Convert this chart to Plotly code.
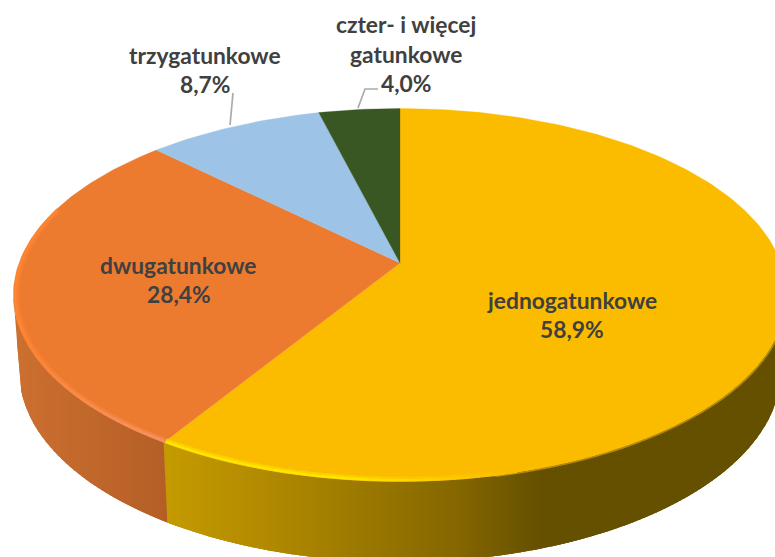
import math
import numpy as np
import plotly.graph_objects as go

categories = ["jednogatunkowe", "dwugatunkowe", "trzygatunkowe", "czter- i więcej gatunkowe"]
values = [58.9, 28.4, 8.7, 4.0]
value_labels = ["58,9%", "28,4%", "8,7%", "4,0%"]
top_colors = ["#FBBC00", "#EC7B30", "#9DC3E6", "#385723"]

# side gradient stops: x position -> colour
gold_stops = [(170, (196, 154, 0)), (300, (170, 132, 0)), (460, (132, 102, 0)), (540, (101, 80, 0)), (800, (101, 80, 0))]
orange_stops = [(15, (204, 112, 48)), (170, (180, 94, 38))]

K = 0.171
TOP = dict(cx=400, cy=263, A=381, B=181)
BOT = dict(cx=400, cy=339.5, A=375, B=184.5)


def project(deg, g, scale=1.0):
    t = math.radians(deg)
    X, Y = math.sin(t) * scale, -math.cos(t) * scale
    w = 1 - K * Y
    return g["cx"] + g["A"] * X / w, g["cy"] + g["B"] * Y / w


def lerp_stops(stops, x):
    if x <= stops[0][0]:
        return stops[0][1]
    for (x0, c0), (x1, c1) in zip(stops, stops[1:]):
        if x <= x1:
            f = (x - x0) / (x1 - x0)
            return tuple(a + (b - a) * f for a, b in zip(c0, c1))
    return stops[-1][1]


def rgb(c):
    return "rgb(%d,%d,%d)" % tuple(round(v) for v in c)


def mix(a, b, f):
    return tuple(p + (q - p) * f for p, q in zip(a, b))


fig = go.Figure()
bounds = [0]
for v in values:
    bounds.append(bounds[-1] + v / sum(values) * 360)


def poly(pts, color, lw=0.0):
    xs = [q[0] for q in pts] + [pts[0][0]]
    ys = [q[1] for q in pts] + [pts[0][1]]
    fig.add_trace(go.Scatter(x=xs, y=ys, mode="lines", fill="toself", fillcolor=color,
                             line=dict(color=color, width=lw), hoverinfo="skip", showlegend=False))


# front rims as y(x) lookups
def front_rim(g):
    ang = np.linspace(90, 270, 721)
    pts = [project(a, g) for a in ang]
    xs = np.array([p[0] for p in pts])[::-1]
    ys = np.array([p[1] for p in pts])[::-1]
    i0, i1 = int(np.argmin(xs)), int(np.argmax(xs))
    return xs[i0:i1 + 1], ys[i0:i1 + 1]


tx, ty = front_rim(TOP)
bx, by = front_rim(BOT)


def top_y(x):
    return float(np.interp(x, tx, ty))


def bot_y(x):
    if x < bx[0]:
        f = (x - tx[0]) / (bx[0] - tx[0])
        return ty[0] + (by[0] - ty[0]) * f
    return float(np.interp(x, bx, by))


def band(x, end, color):
    """Overlapping band, painted left to right so that no seams show."""
    stepx = np.linspace(x, end, 6)
    upper = [(float(v), top_y(v)) for v in stepx]
    lower = [(float(v), bot_y(v)) for v in stepx[::-1]]
    poly(upper + lower, color)


seam_top = project(bounds[1], TOP)
seam_bot = project(bounds[1], BOT)
BAND = 4.0

# orange side
x = float(tx[0])
while x < seam_bot[0] + BAND:
    band(x, x + 2.5 * BAND, rgb(lerp_stops(orange_stops, x + BAND / 2)))
    x += BAND

# gold side: slanted seam first, then vertical bands
x0 = seam_bot[0]
poly([seam_top, (x0 + 3, top_y(x0 + 3)), (x0 + 3, bot_y(x0 + 3)), seam_bot], rgb(gold_stops[0][1]))
x = x0
while x < 790:
    band(x, x + 2.5 * BAND, rgb(lerp_stops(gold_stops, x + BAND / 2)))
    x += BAND

# top faces
for i, c in enumerate(top_colors):
    a0, a1 = bounds[i], bounds[i + 1]
    n = max(6, int((a1 - a0) / 1.0))
    pts = [project(a0 + (a1 - a0) * j / n, TOP) for j in range(n + 1)]
    poly([(TOP["cx"], TOP["cy"])] + pts, c, 0.3)


def stroke(p0, p1, col, w):
    fig.add_trace(go.Scatter(x=[p0[0], p1[0]], y=[p0[1], p1[1]], mode="lines",
                             line=dict(color=rgb(col), width=w), hoverinfo="skip", showlegend=False))


def rim(lo, hi, n, col_fn, scale, w):
    for j in range(n):
        s0 = lo + (hi - lo) * j / n
        s1 = lo + (hi - lo) * (j + 1) / n
        stroke(project(s0, TOP, scale), project(s1, TOP, scale), col_fn(s0), w)


# soft shaded edge on the dark right part of the rim
rim(92, 168, 40, lambda s: (182, 140, 0), 1.002, 1.6)

# bevel highlight along the lit part of the rim
gold_base, gold_hi = (251, 188, 0), (255, 232, 0)
f_gold = lambda s: min(1, max(0, (s - 165) / 22))
rim(165, bounds[1], 30, lambda s: mix(gold_base, gold_hi, 0.45 * f_gold(s)), 0.992, 5.0)
rim(165, bounds[1], 30, lambda s: mix(gold_base, gold_hi, f_gold(s)), 0.995, 2.2)

orange_base, orange_hi, orange_pale = (236, 123, 48), (255, 133, 51), (246, 146, 96)
f_or = lambda s: min(1, (s - bounds[1]) / 30)
rim(bounds[1], 288, 40, lambda s: mix(orange_base, mix(orange_pale, orange_hi, f_or(s)), 0.5), 0.992, 5.0)
rim(bounds[1], 288, 40, lambda s: mix(orange_pale, orange_hi, f_or(s)), 0.995, 2.4)

# leader lines
for xs, ys in [([230, 233], [125, 93]), ([358, 365, 378], [108, 89, 89])]:
    fig.add_trace(go.Scatter(x=xs, y=ys, mode="lines", line=dict(color="#ABABAB", width=1.7),
                             hoverinfo="skip", showlegend=False))

# labels
label_lines = [["jednogatunkowe"], ["dwugatunkowe"], ["trzygatunkowe"], ["czter- i więcej", "gatunkowe"]]
label_pos = [(571.5, [299.5, 329]), (178.5, [264.5, 294]), (204.5, [54.5, 83.5]), (405.5, [24, 53.5, 82.5])]
for lines, vl, (x, ys) in zip(label_lines, value_labels, label_pos):
    for t, y in zip(lines + [vl], ys):
        fig.add_annotation(x=x, y=y, text="<b>%s</b>" % t, showarrow=False, xanchor="center", yanchor="middle",
                           font=dict(family="Lato", size=22.8, color="#404040"))

fig.update_layout(
    width=775, height=557, margin=dict(l=0, r=0, t=0, b=0),
    paper_bgcolor="white", plot_bgcolor="white", showlegend=False,
    xaxis=dict(range=[0, 775], visible=False, fixedrange=True),
    yaxis=dict(range=[557, 0], visible=False, fixedrange=True),
)
fig.write_html("out.html", config={"displayModeBar": False},
               post_script="document.body.style.margin='0';document.documentElement.style.overflow='hidden';")
